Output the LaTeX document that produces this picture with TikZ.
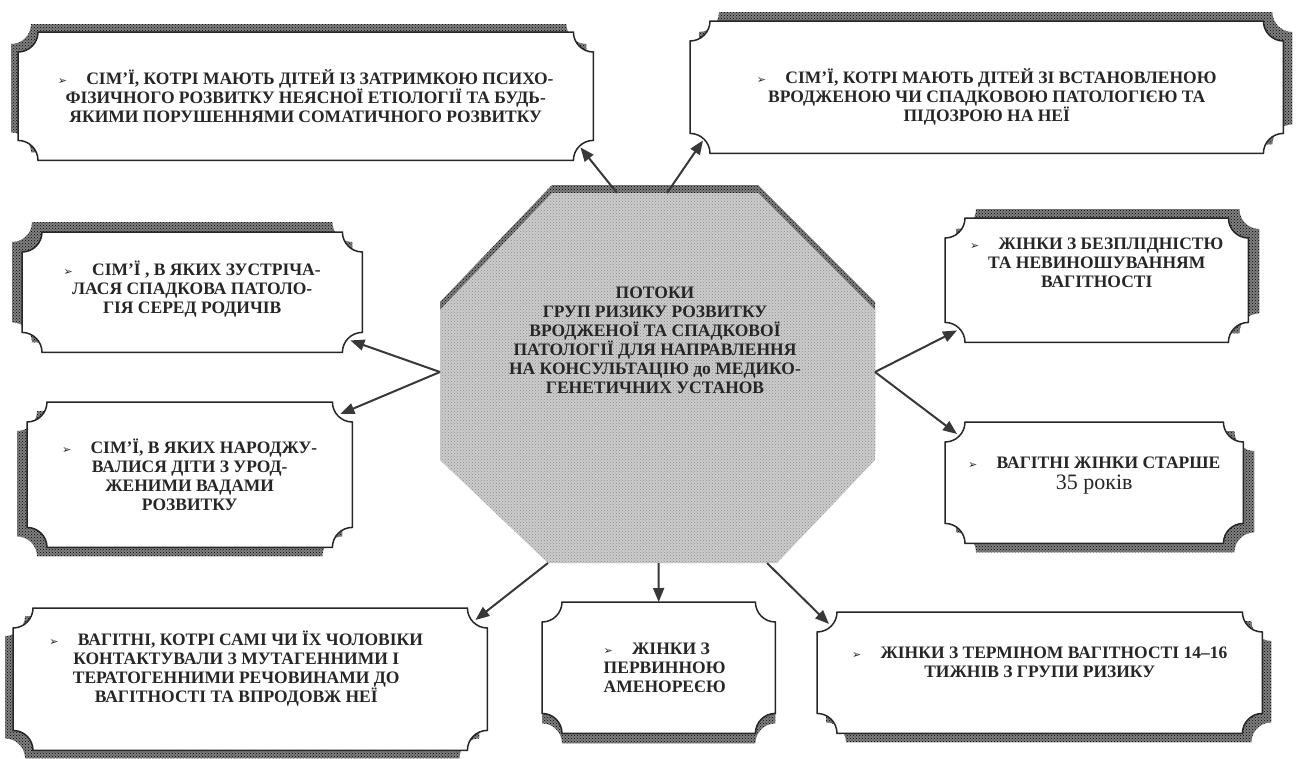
\documentclass[tikz,border=0pt]{standalone}
\usepackage{fontspec}
\setmainfont{Liberation Serif}
\newfontfamily\symfont{DejaVu Sans}
\usetikzlibrary{arrows.meta,patterns}
\definecolor{ArrowClr}{gray}{0.22}
\definecolor{LineClr}{gray}{0.15}
\definecolor{ShadowClr}{gray}{0.50}
\definecolor{OctClr}{gray}{0.80}
\newcommand\bul{{\symfont\fontsize{11}{11}\selectfont ➢}\hspace{1.1em}}
\newlength\pr \setlength\pr{20pt}
% plaque outline round a named node: node, offset, path options
\newcommand\plaque[3]{\path[#3]
 ([shift={#2},yshift=-\pr]#1.north west) arc[start angle=-90,end angle=0,radius=\pr]
 -- ([shift={#2},xshift=-\pr]#1.north east) arc[start angle=180,end angle=270,radius=\pr]
 -- ([shift={#2},yshift=\pr]#1.south east) arc[start angle=90,end angle=180,radius=\pr]
 -- ([shift={#2},xshift=\pr]#1.south west) arc[start angle=0,end angle=90,radius=\pr]
 -- cycle;}

\begin{document}
\begin{tikzpicture}[x=1pt,y=-1pt,
  frm/.style={anchor=north west,inner sep=0pt,draw=none},
  shd/.style={fill=ShadowClr,postaction={pattern=crosshatch dots,pattern color=black}},
  plq/.style={fill=white,draw=LineClr,line width=1.5pt},
  txt/.style={align=center,inner sep=0pt,text=black!85,
    font=\bfseries\fontsize{17.5}{19}\selectfont},
  arr/.style={draw=ArrowClr,line width=2pt,-{Triangle[length=14pt,width=11pt]}}]
\useasboundingbox (0,0) rectangle (1298,758);

% central octagon
\fill[shd] (552,185) -- (758,185) -- (875,302) -- (875,452) -- (777,555)
  -- (548,555) -- (440,452) -- (440,302) -- cycle;
\fill[OctClr,postaction={pattern=crosshatch dots,pattern color=black!45}]
  (552,193) -- (758,193) -- (875,310) -- (875,460) -- (777,563)
  -- (548,563) -- (440,460) -- (440,310) -- cycle;
\node[txt] (hub) at (655,340) {ПОТОКИ\\ГРУП РИЗИКУ РОЗВИТКУ\\ВРОДЖЕНОЇ ТА СПАДКОВОЇ\\
  ПАТОЛОГІЇ ДЛЯ НАПРАВЛЕННЯ\\НА КОНСУЛЬТАЦІЮ до МЕДИКО-\\ГЕНЕТИЧНИХ УСТАНОВ};

% frames
\node[frm,minimum width=575pt,minimum height=128pt] (famA) at (18,32) {};
\node[frm,minimum width=593pt,minimum height=132pt] (famB) at (690,21) {};
\node[frm,minimum width=340pt,minimum height=120pt] (famC) at (22,232) {};
\node[frm,minimum width=325pt,minimum height=145pt] (famD) at (27,402) {};
\node[frm,minimum width=303pt,minimum height=124pt] (womE) at (945,218) {};
\node[frm,minimum width=298pt,minimum height=121pt] (womF) at (945,422) {};
\node[frm,minimum width=474pt,minimum height=142pt] (pregG) at (13,608) {};
\node[frm,minimum width=233pt,minimum height=131pt] (womH) at (542,602) {};
\node[frm,minimum width=445pt,minimum height=121pt] (womI) at (817,612) {};

% shadows
\plaque{famA}{(-7,-8)}{shd}
\plaque{famB}{(9,-9)}{shd}
\plaque{famC}{(-10,-10)}{shd}
\plaque{famD}{(-10,9)}{shd}
\plaque{womE}{(11,-9)}{shd}
\plaque{womF}{(11,9)}{shd}
\plaque{pregG}{(-8,8)}{shd}
\plaque{womH}{(0,10)}{shd}
\plaque{womI}{(9,9)}{shd}

% plaques
\foreach \b in {famA,famB,famC,famD,womE,womF,pregG,womH,womI}
  {\plaque{\b}{(0,0)}{plq}}

% texts
\node[txt] (tA) at (famA.center) {\bul СІМ'Ї, КОТРІ МАЮТЬ ДІТЕЙ ІЗ ЗАТРИМКОЮ ПСИХО-\\
  ФІЗИЧНОГО РОЗВИТКУ НЕЯСНОЇ ЕТІОЛОГІЇ ТА БУДЬ-\\ЯКИМИ ПОРУШЕННЯМИ СОМАТИЧНОГО РОЗВИТКУ};
\node[txt,yshift=-10pt] (tB) at (famB.center) {\bul СІМ'Ї, КОТРІ МАЮТЬ ДІТЕЙ ЗІ ВСТАНОВЛЕНОЮ\\
  ВРОДЖЕНОЮ ЧИ СПАДКОВОЮ ПАТОЛОГІЄЮ ТА\\ПІДОЗРОЮ НА НЕЇ};
\node[txt,yshift=3pt] (tC) at (famC.center) {\bul СІМ'Ї , В ЯКИХ ЗУСТРІЧА-\\
  ЛАСЯ СПАДКОВА ПАТОЛО-\\ГІЯ СЕРЕД РОДИЧІВ};
\node[txt] (tD) at (famD.center) {\bul СІМ'Ї, В ЯКИХ НАРОДЖУ-\\ВАЛИСЯ ДІТИ З УРОД-\\
  ЖЕНИМИ ВАДАМИ\\РОЗВИТКУ};
\node[txt,yshift=17pt] (tE) at (womE.center) {\bul ЖІНКИ З БЕЗПЛІДНІСТЮ\\
  ТА НЕВИНОШУВАННЯМ\\ВАГІТНОСТІ};
\node[txt,yshift=7pt] (tF) at (womF.center) {\bul ВАГІТНІ ЖІНКИ СТАРШЕ\\[2pt]
  {\mdseries\fontsize{22}{22}\selectfont 35 років}};
\node[txt,xshift=-14pt,yshift=11pt] (tG) at (pregG.center) {\bul ВАГІТНІ, КОТРІ САМІ ЧИ ЇХ ЧОЛОВІКИ\\
  КОНТАКТУВАЛИ З МУТАГЕННИМИ І\\ТЕРАТОГЕННИМИ РЕЧОВИНАМИ ДО\\ВАГІТНОСТІ ТА ВПРОДОВЖ НЕЇ};
\node[txt,align=left,xshift=6pt] (tH) at (womH.center) {\bul ЖІНКИ З\\ПЕРВИННОЮ\\АМЕНОРЕЄЮ};
\node[txt,yshift=10pt] (tI) at (womI.center) {\bul ЖІНКИ З ТЕРМІНОМ ВАГІТНОСТІ 14–16\\
  ТИЖНІВ З ГРУПИ РИЗИКУ};

% arrows
\coordinate (oTL) at (617,193);
\coordinate (oTR) at (667,193);
\coordinate (oL) at (440,372);
\coordinate (oR) at (875,372);
\coordinate (oBL) at (548,563);
\coordinate (oB) at (658.5,563);
\coordinate (oBR) at (767,563);
\draw[arr] (oTL) -- ([shift={(-13,-13)}]famA.south east);
\draw[arr] (oTR) -- ([shift={(13,-13)}]famB.south west);
\draw[arr] (oL) -- ([shift={(-12,-12)}]famC.south east);
\draw[arr] (oL) -- ([shift={(-12,12)}]famD.north east);
\draw[arr] (oR) -- ([shift={(12,-12)}]womE.south west);
\draw[arr] (oR) -- ([shift={(12,12)}]womF.north west);
\draw[arr] (oBL) -- ([shift={(-12,12)}]pregG.north east);
\draw[arr] (oB) -- (womH.north);
\draw[arr] (oBR) -- ([shift={(12,12)}]womI.north west);
\end{tikzpicture}
\end{document}
